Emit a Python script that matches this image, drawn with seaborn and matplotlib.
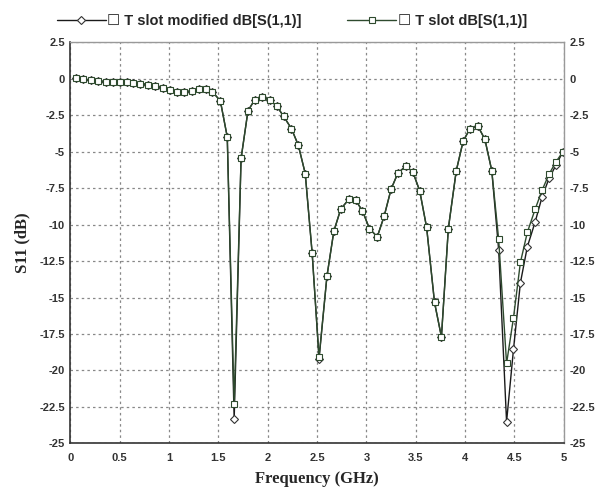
import matplotlib
matplotlib.use("Agg")
import matplotlib.pyplot as plt
import pandas as pd
import seaborn as sns

# frequency sweep points (GHz)
freq = [0.06, 0.13, 0.21, 0.28, 0.36, 0.43, 0.50, 0.57, 0.64, 0.71, 0.79, 0.86,
        0.94, 1.01, 1.08, 1.15, 1.23, 1.30, 1.37, 1.44, 1.52, 1.59, 1.66, 1.73,
        1.80, 1.87, 1.94, 2.02, 2.09, 2.16, 2.24, 2.31, 2.38, 2.45, 2.52, 2.60,
        2.67, 2.74, 2.82, 2.89, 2.96, 3.03, 3.11, 3.18, 3.25, 3.32, 3.40, 3.47,
        3.54, 3.61, 3.69, 3.76, 3.83, 3.91, 3.98, 4.05, 4.13, 4.20, 4.27, 4.34,
        4.42, 4.49, 4.56, 4.63, 4.71, 4.78, 4.85, 4.92, 4.99]

s11_modified = [0.08, -0.04, -0.10, -0.15, -0.20, -0.22, -0.22, -0.26, -0.29, -0.33, -0.40, -0.49,
                -0.67, -0.80, -0.90, -0.90, -0.84, -0.74, -0.74, -0.90, -1.52, -3.99, -23.35, -5.47,
                -2.20, -1.43, -1.25, -1.47, -1.86, -2.57, -3.42, -4.56, -6.50, -11.94, -19.2, -13.54,
                -10.45, -8.94, -8.28, -8.33, -9.06, -10.27, -10.84, -9.42, -7.57, -6.45, -6.00, -6.39,
                -7.69, -10.20, -15.34, -17.70, -10.27, -6.32, -4.28, -3.42, -3.26, -4.15, -6.30, -11.75,
                -23.52, -18.56, -14.00, -11.53, -9.81, -8.10, -6.84, -5.93, -5.02]

s11_tslot = [0.08, -0.04, -0.10, -0.15, -0.20, -0.22, -0.22, -0.26, -0.29, -0.33, -0.40, -0.49,
             -0.67, -0.80, -0.90, -0.90, -0.84, -0.74, -0.74, -0.90, -1.52, -3.99, -22.30, -5.47,
             -2.20, -1.43, -1.25, -1.47, -1.86, -2.57, -3.42, -4.56, -6.50, -11.94, -19.10, -13.54,
             -10.45, -8.94, -8.28, -8.33, -9.06, -10.27, -10.84, -9.42, -7.57, -6.45, -6.00, -6.39,
             -7.69, -10.20, -15.34, -17.70, -10.27, -6.32, -4.28, -3.42, -3.26, -4.15, -6.30, -11.02,
             -19.52, -16.39, -12.60, -10.54, -8.94, -7.64, -6.55, -5.70, -5.02]

x_ticks = [0, 0.5, 1, 1.5, 2, 2.5, 3, 3.5, 4, 4.5, 5]
y_ticks = [2.5, 0, -2.5, -5, -7.5, -10, -12.5, -15, -17.5, -20, -22.5, -25]


def main():
    sns.set_theme(style="white")
    df = pd.DataFrame({"freq": freq, "mod": s11_modified, "tslot": s11_tslot})

    fig = plt.figure(figsize=(5.96, 4.91), dpi=100)
    ax = fig.add_axes([0.118, 0.097, 0.828, 0.817])

    sns.lineplot(data=df, x="freq", y="mod", ax=ax, color="#1a1a1a", lw=1.0,
                 marker="D", markersize=3.8, mfc="white", mec="#333333", mew=0.8,
                 label="\u2610 T slot modified dB[S(1,1)]")
    sns.lineplot(data=df, x="freq", y="tslot", ax=ax, color="#2e4a2e", lw=1.0,
                 marker="s", markersize=3.8, mfc="white", mec="#2e4a2e", mew=0.8,
                 label="\u2610 T slot dB[S(1,1)]")

    ax.set_xlim(0, 5)
    ax.set_ylim(-25, 2.5)
    ax.set_xticks(x_ticks)
    ax.set_xticklabels([f"{t:g}" for t in x_ticks])
    ax.set_yticks(y_ticks)
    ax.set_yticklabels([f"{t:g}" for t in y_ticks])
    ax.tick_params(axis="x", length=0, labelsize=8, pad=7, labelcolor="#333333")
    ax.tick_params(axis="y", length=0, labelsize=8, pad=4, labelcolor="#333333",
                   labelright=True)
    for lab in ax.get_xticklabels() + ax.get_yticklabels():
        lab.set_fontweight("bold")
        lab.set_family("Liberation Sans")
    for lab in ax.yaxis.get_ticklabels(which="major"):
        lab.set_fontweight("bold")
    for t in ax.yaxis.get_major_ticks():
        t.label2.set_fontweight("bold")
        t.label2.set_family("Liberation Sans")

    ax.grid(True, color="#888888", linestyle=(0, (2, 2.5)), linewidth=0.9)
    for side in ["left", "bottom"]:
        ax.spines[side].set_color("#333333")
        ax.spines[side].set_linewidth(1.2)
    for side in ["top", "right"]:
        ax.spines[side].set_color("#999999")
        ax.spines[side].set_linewidth(1.0)

    ax.set_xlabel("Frequency (GHz)", family="Liberation Serif", fontweight="bold",
                  fontsize=12, labelpad=6)
    ax.set_ylabel("S11 (dB)", family="Liberation Serif", fontweight="bold",
                  fontsize=12, labelpad=6)

    leg = ax.legend(loc="lower left", bbox_to_anchor=(-0.04, 1.02), ncol=2,
                    frameon=False, handlelength=3.2, handletextpad=0.1,
                    columnspacing=3.0, borderaxespad=0)
    for t in leg.get_texts():
        t.set_fontweight("bold")
        t.set_family(["Liberation Sans", "DejaVu Sans"])
        t.set_fontsize(10.5)

    fig.savefig("out.png", dpi=100)
    plt.close(fig)


if __name__ == "__main__":
    main()
